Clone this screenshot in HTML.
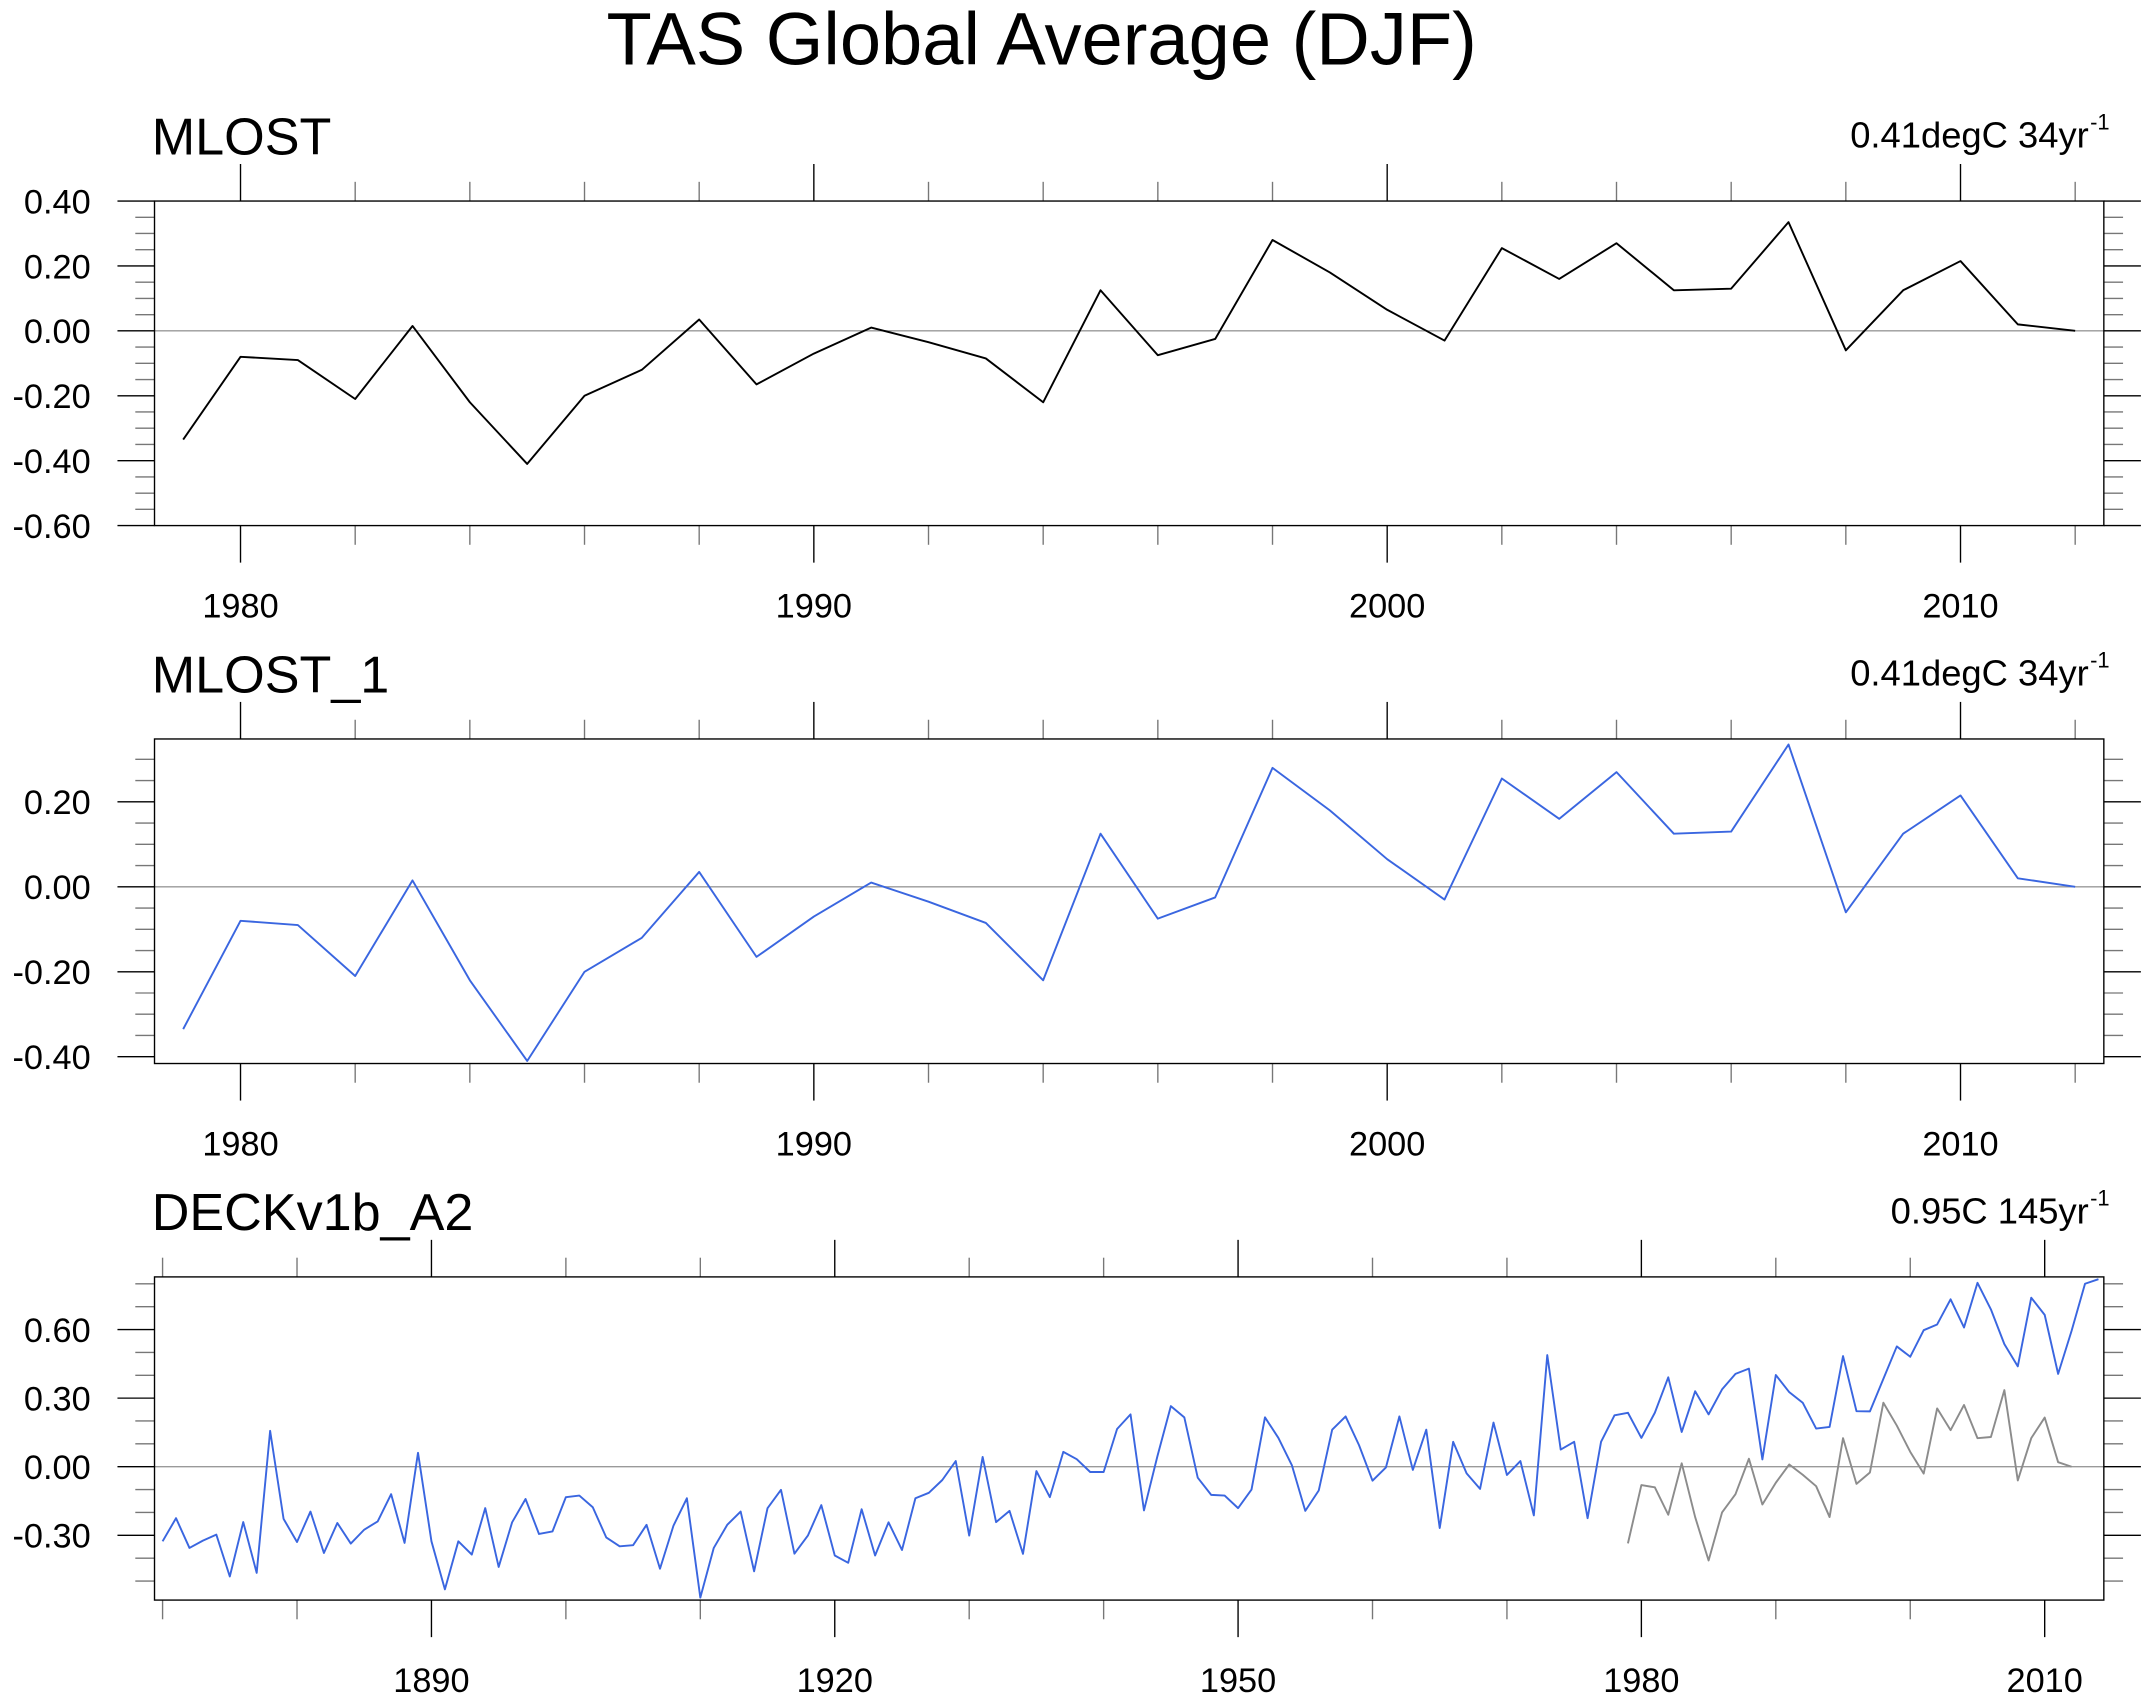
<!DOCTYPE html>
<html><head><meta charset="utf-8"><style>
html,body{margin:0;padding:0;background:#fff}
svg{display:block}
text{font-family:"Liberation Sans",sans-serif;fill:#000}
</style></head><body>
<svg id="chart" width="2152" height="1703" viewBox="0 0 1568 1241" xmlns="http://www.w3.org/2000/svg">
<text x="759" y="47" font-size="54" text-anchor="middle">TAS Global Average (DJF)</text>
</svg>
<script>
// MLOST DJF anomalies 1979-2012
const mlostYears = [];
for (let y = 1979; y <= 2012; y++) mlostYears.push(y);
const mlostValues = [-0.335,-0.08,-0.09,-0.21,0.015,-0.22,-0.41,-0.20,-0.12,0.035,-0.165,-0.07,0.01,-0.035,-0.085,-0.22,0.125,-0.075,-0.025,0.28,0.18,0.065,-0.03,0.255,0.16,0.27,0.125,0.13,0.335,-0.06,0.125,0.215,0.02,0.0];
// DECKv1b_A2 1870-2014
const deckYears = [];
for (let y = 1870; y <= 2014; y++) deckYears.push(y);
const deckValues = [
-0.326,-0.225,-0.355,-0.323,-0.297,-0.48,-0.242,-0.464,0.157,-0.228,
-0.329,-0.196,-0.377,-0.246,-0.336,-0.275,-0.239,-0.12,-0.333,0.061,
-0.326,-0.536,-0.326,-0.384,-0.181,-0.438,-0.243,-0.141,-0.294,-0.283,
-0.133,-0.126,-0.177,-0.309,-0.348,-0.343,-0.254,-0.446,-0.258,-0.138,
-0.572,-0.355,-0.254,-0.196,-0.457,-0.181,-0.101,-0.38,-0.301,-0.168,
-0.388,-0.42,-0.186,-0.388,-0.243,-0.364,-0.138,-0.114,-0.058,0.025,
-0.301,0.043,-0.242,-0.193,-0.381,-0.019,-0.133,0.065,0.033,-0.023,
-0.023,0.165,0.229,-0.191,0.046,0.265,0.216,-0.048,-0.123,-0.126,
-0.181,-0.1,0.216,0.126,0.007,-0.193,-0.104,0.162,0.22,0.094,
-0.061,-0.003,0.22,-0.014,0.162,-0.268,0.109,-0.029,-0.097,0.193,
-0.036,0.025,-0.213,0.488,0.075,0.109,-0.225,0.109,0.225,0.236,
0.126,0.236,0.391,0.152,0.33,0.229,0.338,0.406,0.429,0.032,
0.401,0.326,0.28,0.167,0.174,0.484,0.243,0.242,0.384,0.526,
0.481,0.597,0.622,0.732,0.609,0.804,0.688,0.536,0.439,0.739,
0.664,0.406,0.594,0.8,0.82];
const p1YTicks = [0.4,0.2,0.0,-0.2,-0.4,-0.6];
const p1YLabels = ["0.40","0.20","0.00","-0.20","-0.40","-0.60"];
const p2YTicks = [0.2,0.0,-0.2,-0.4];
const p2YLabels = ["0.20","0.00","-0.20","-0.40"];
const p3YTicks = [0.6,0.3,0.0,-0.3];
const p3YLabels = ["0.60","0.30","0.00","-0.30"];
const p12XTicks = [1980,1990,2000,2010];
const p3XTicks = [1890,1920,1950,1980,2010];

const NS = "http://www.w3.org/2000/svg";
const svg = document.getElementById('chart');
function el(tag, attrs, parent) {
  const e = document.createElementNS(NS, tag);
  for (const k in attrs) e.setAttribute(k, attrs[k]);
  (parent || svg).appendChild(e);
  return e;
}
const L = 112.5, R = 1533;

function panel(cfg) {
  const g = el('g', {});
  
  
  const xs = v => L + (v - cfg.x0) / (cfg.x1 - cfg.x0) * (R - L);
  const ys = v => cfg.top + (cfg.y1 - v) / (cfg.y1 - cfg.y0) * (cfg.bot - cfg.top);
  const z = el('line', {x1: L, x2: R, y1: ys(0), y2: ys(0), stroke: '#9a9a9a', 'stroke-width': 1}, g);
  
  
  for (let v = cfg.xMinorStart; v <= cfg.x1; v += cfg.xMinor) {
    const isMaj = cfg.xTicks.includes(v);
    const len = isMaj ? 27 : 14;
    el('line', {x1: xs(v), x2: xs(v), y1: cfg.top, y2: cfg.top - len, stroke: isMaj ? '#000' : '#777', 'stroke-width': 1}, g);
    el('line', {x1: xs(v), x2: xs(v), y1: cfg.bot, y2: cfg.bot + len, stroke: isMaj ? '#000' : '#777', 'stroke-width': 1}, g);
  }
  cfg.xTicks.forEach(v => {
    const t = el('text', {x: xs(v), y: cfg.bot + 67, 'font-size': 25, 'text-anchor': 'middle'}, g);
    
    
    t.textContent = v;
  });
  const n0 = Math.ceil(cfg.y0 / cfg.yMinor - 1e-6), n1 = Math.floor(cfg.y1 / cfg.yMinor + 1e-6);
  for (let n = n0; n <= n1; n++) {
    const v = n * cfg.yMinor;
    const isMaj = cfg.yTicks.some(t => Math.abs(t - v) < 1e-6);
    const len = isMaj ? 27 : 14;
    el('line', {x1: L, x2: L - len, y1: ys(v), y2: ys(v), stroke: isMaj ? '#000' : '#777', 'stroke-width': 1}, g);
    el('line', {x1: R, x2: R + len, y1: ys(v), y2: ys(v), stroke: isMaj ? '#000' : '#777', 'stroke-width': 1}, g);
  }
  cfg.yTicks.forEach((v, i) => {
    const t = el('text', {x: 66, y: ys(v) + 9, 'font-size': 25, 'text-anchor': 'end'}, g);
    
    
    t.textContent = cfg.yLabels[i];
  });
  cfg.series.forEach(s => {
    const d = s.xs.map((x, i) => (i ? 'L' : 'M') + xs(x).toFixed(2) + ',' + ys(s.vs[i]).toFixed(2)).join(' ');
    const p = el('path', {d: d, fill: 'none', stroke: s.color, 'stroke-width': 1.4, 'stroke-linejoin': 'round'}, g);
    
    
  });
  const f = el('rect', {x: L, y: cfg.top, width: R - L, height: cfg.bot - cfg.top, fill: 'none', stroke: '#000', 'stroke-width': 1}, g);
  
  
  const lt = el('text', {x: 110.5, y: cfg.top - 34, 'font-size': 38}, g);
  
  
  lt.textContent = cfg.title;
  const rt = el('text', {x: 1522, y: cfg.top - 39, 'font-size': 26.5, 'text-anchor': 'end'}, g);
  
  
  rt.textContent = cfg.trend;
  const sup = el('text', {x: 1523, y: cfg.top - 52, 'font-size': 16}, g);
  
  
  sup.textContent = '-1';
}

panel({name: 'panel-mlost', title: 'MLOST', trend: '0.41degC 34yr', top: 146.5, bot: 383, y0: -0.6, y1: 0.4,
  yMinor: 0.05, yTicks: p1YTicks, yLabels: p1YLabels, x0: 1978.5, x1: 2012.5, xMinor: 2, xMinorStart: 1980, xTicks: p12XTicks,
  series: [{name: 'mlost-line', xs: mlostYears, vs: mlostValues, color: '#000'}]});
panel({name: 'panel-mlost-1', title: 'MLOST_1', trend: '0.41degC 34yr', top: 538.5, bot: 775, y0: -0.416, y1: 0.348,
  yMinor: 0.05, yTicks: p2YTicks, yLabels: p2YLabels, x0: 1978.5, x1: 2012.5, xMinor: 2, xMinorStart: 1980, xTicks: p12XTicks,
  series: [{name: 'mlost-1-line', xs: mlostYears, vs: mlostValues, color: '#3a66e0'}]});
panel({name: 'panel-deck', title: 'DECKv1b_A2', trend: '0.95C 145yr', top: 930.5, bot: 1166, y0: -0.583, y1: 0.83,
  yMinor: 0.1, yTicks: p3YTicks, yLabels: p3YLabels, x0: 1869.4, x1: 2014.4, xMinor: 10, xMinorStart: 1870, xTicks: p3XTicks,
  series: [{name: 'deck-line', xs: deckYears, vs: deckValues, color: '#3a66e0'},
           {name: 'mlost-overlay-line', xs: mlostYears, vs: mlostValues, color: '#8c8c8c'}]});
</script>
</body></html>
